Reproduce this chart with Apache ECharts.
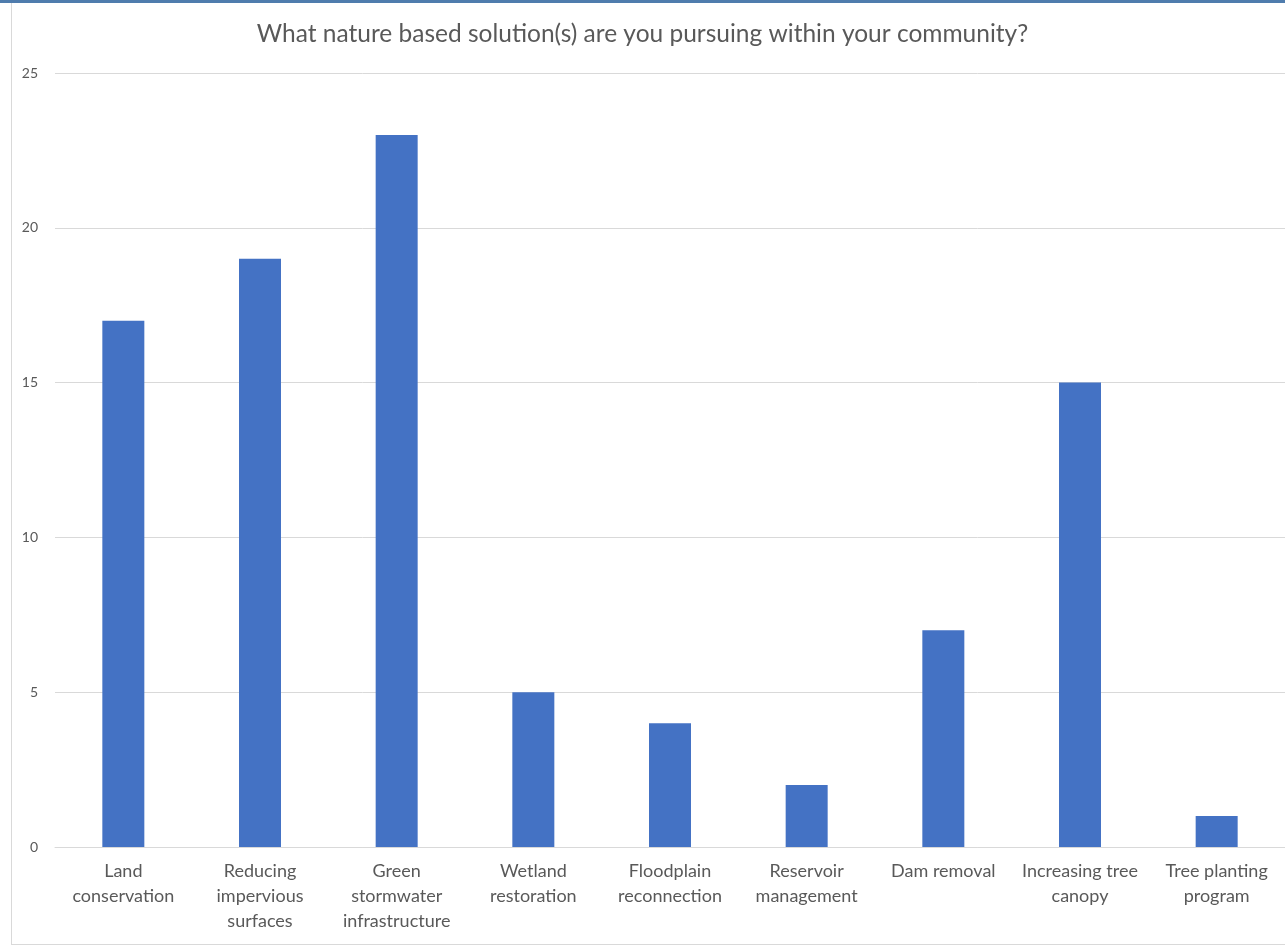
<!DOCTYPE html>
<html>
<head>
<meta charset="utf-8">
<style>
  html, body { margin: 0; padding: 0; background: #ffffff; }
  #chart { width: 1285px; height: 946px; }
</style>
<script src="https://cdn.jsdelivr.net/npm/echarts@6/dist/echarts.min.js"></script>
</head>
<body>
<div id="chart"></div>
<script>
// Survey responses: nature based solutions pursued by communities
const categories = [
  'Land\nconservation',
  'Reducing\nimpervious\nsurfaces',
  'Green\nstormwater\ninfrastructure',
  'Wetland\nrestoration',
  'Floodplain\nreconnection',
  'Reservoir\nmanagement',
  'Dam removal',
  'Increasing tree\ncanopy',
  'Tree planting\nprogram'
];
const responses = [17, 19, 23, 5, 4, 2, 7, 15, 1];
const yTicks = { min: 0, max: 25, interval: 5 };
const titleText = 'What nature based solution(s) are you pursuing within your community?';

const chart = echarts.init(document.getElementById('chart'));
const textColor = '#595959';
const font = 'Lato, "Open Sans", sans-serif';

chart.setOption({
  backgroundColor: '#ffffff',
  animation: false,
  title: {
    text: titleText,
    left: 'center',
    top: 17,
    textStyle: { color: textColor, fontSize: 24.5, fontWeight: 'normal', fontFamily: font }
  },
  grid: { left: 55, right: -4, top: 73, bottom: 99, containLabel: false },
  xAxis: {
    type: 'category',
    data: categories,
    axisLine: { show: true, lineStyle: { color: '#d9d9d9', width: 1 } },
    axisTick: { show: false },
    axisLabel: {
      color: textColor, fontSize: 18, fontFamily: font,
      lineHeight: 25, margin: 12, interval: 0
    }
  },
  yAxis: {
    type: 'value',
    min: yTicks.min, max: yTicks.max, interval: yTicks.interval,
    axisLine: { show: false },
    axisTick: { show: false },
    axisLabel: { color: textColor, fontSize: 14, fontFamily: font, margin: 17 },
    splitLine: { lineStyle: { color: '#d9d9d9', width: 1 } }
  },
  series: [{
    type: 'bar',
    data: responses,
    barWidth: 42,
    itemStyle: { color: '#4472c4' }
  }],
  graphic: [
    // frame of the chart area
    { type: 'rect', shape: { x: 0, y: 0, width: 1285, height: 3 }, style: { fill: '#4f7cad' }, silent: true },
    { type: 'rect', shape: { x: 11, y: 3, width: 1, height: 942 }, style: { fill: '#d9d9d9' }, silent: true },
    { type: 'rect', shape: { x: 11, y: 944, width: 1274, height: 1 }, style: { fill: '#d9d9d9' }, silent: true }
  ]
});
</script>
</body>
</html>
